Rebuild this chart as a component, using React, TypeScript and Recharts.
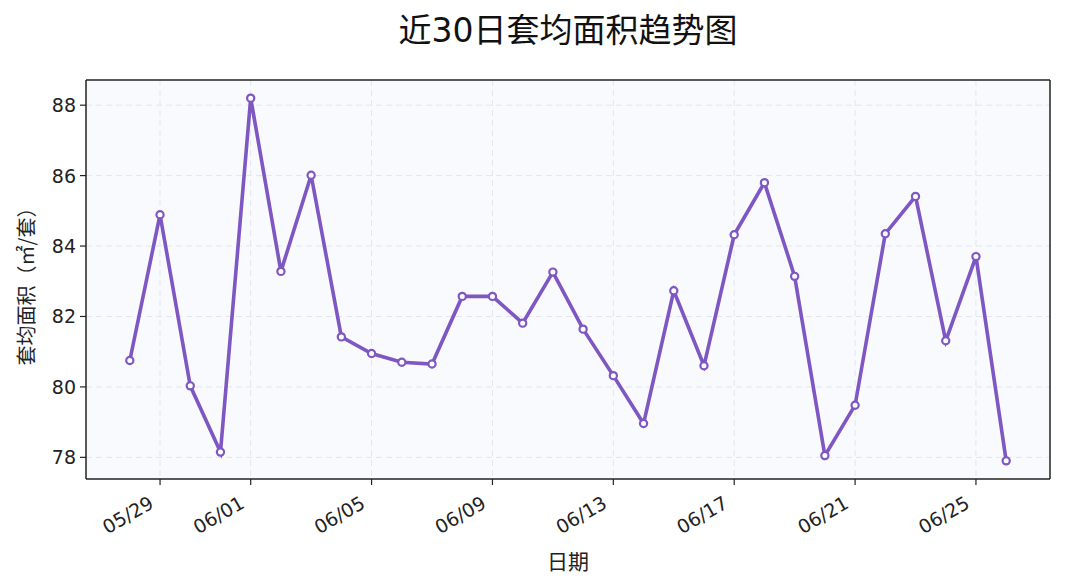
import React from 'react';
import { LineChart, Line, XAxis, YAxis, CartesianGrid, ReferenceLine } from 'recharts';

const dates = ['05/28','05/29','05/30','05/31','06/01','06/02','06/03','06/04','06/05','06/06','06/07','06/08','06/09','06/10','06/11','06/12','06/13','06/14','06/15','06/16','06/17','06/18','06/19','06/20','06/21','06/22','06/23','06/24','06/25','06/26'];
const avgArea = [80.75,84.89,80.03,78.15,88.2,83.28,86.01,81.42,80.95,80.7,80.65,82.57,82.57,81.81,83.26,81.64,80.32,78.96,82.73,80.6,84.32,85.8,83.14,78.05,79.48,84.35,85.41,81.31,83.7,77.9];
const xTickIdx = [1, 4, 8, 12, 16, 20, 24, 28];
const yTicks = [78, 80, 82, 84, 86, 88];

const title = '近30日套均面积趋势图';
const xLabel = '日期';
const yLabel = '套均面积（㎡/套）';

const data = dates.map((d, i) => ({ i, date: d, v: avgArea[i] }));

const X_DOMAIN: [number, number] = [-1.45, 30.45];
const Y_DOMAIN: [number, number] = [77.385, 88.715];

const FONT = '"DejaVu Sans", "Noto Sans CJK SC", sans-serif';
const CJK_FONT = '"Noto Sans CJK SC", "DejaVu Sans", sans-serif';
const COLOR = '#7e57c2';

const XTick = (props: any) => {
  const { x, y, payload } = props;
  const ax = x - 5;
  const ay = y + 20;
  return (
    <text
      x={ax}
      y={ay}
      transform={`rotate(-30, ${ax}, ${ay})`}
      textAnchor="end"
      fontSize={19}
      fill="#222"
      fontFamily={FONT}
    >
      {dates[payload.value]}
    </text>
  );
};

const YTick = (props: any) => {
  const { x, y, payload } = props;
  return (
    <text x={x} y={y} dy={7} textAnchor="end" fontSize={19} fill="#222" fontFamily={FONT}>
      {payload.value}
    </text>
  );
};

const Dot = (props: any) => {
  const { cx, cy } = props;
  return <circle cx={cx} cy={cy} r={3.6} fill="#fff" stroke={COLOR} strokeWidth={2.2} />;
};

export default function App() {
  return (
    <div style={{ position: 'absolute', left: 0, top: 0, width: 1065, height: 588, background: '#fff' }}>
      <div
        style={{
          position: 'absolute',
          left: 0,
          width: 1136,
          top: 8,
          textAlign: 'center',
          fontFamily: FONT,
          fontSize: 33,
          color: '#111',
          lineHeight: '46px',
        }}
      >
        {title}
      </div>
      <LineChart
        width={1065}
        height={588}
        data={data}
        margin={{ top: 80, right: 15, bottom: 49, left: 0 }}
      >
        <CartesianGrid
          stroke="#e3e6ee"
          strokeDasharray="6 4"
          fill="#f9fafe"
          fillOpacity={1}
          verticalValues={xTickIdx}
          horizontalValues={yTicks}
        />
        <XAxis
          dataKey="i"
          type="number"
          domain={X_DOMAIN}
          ticks={xTickIdx}
          interval={0}
          allowDataOverflow
          height={60}
          stroke="#222"
          tickLine={{ stroke: '#222', strokeWidth: 1.2 }}
          axisLine={{ stroke: '#222', strokeWidth: 1.5 }}
          tickSize={6}
          tick={<XTick />}
          label={(p: any) => {
            const vb = p.viewBox;
            return (
              <text
                x={vb.x + vb.width / 2}
                y={560}
                textAnchor="middle"
                dominantBaseline="central"
                fontSize={21}
                fill="#222"
                fontFamily={CJK_FONT}
              >
                {xLabel}
              </text>
            );
          }}
        />
        <YAxis
          type="number"
          domain={Y_DOMAIN}
          ticks={yTicks}
          interval={0}
          allowDataOverflow
          width={86}
          tickSize={6}
          tickMargin={4}
          tickLine={{ stroke: '#222', strokeWidth: 1.2 }}
          axisLine={{ stroke: '#222', strokeWidth: 1.5 }}
          tick={<YTick />}
          label={(p: any) => {
            const vb = p.viewBox;
            const cx = 25;
            const cy = vb.y + vb.height / 2 + 2;
            return (
              <text
                x={cx}
                y={cy}
                transform={`rotate(-90, ${cx}, ${cy})`}
                textAnchor="middle"
                dominantBaseline="central"
                fontSize={20}
                fill="#222"
                fontFamily={CJK_FONT}
              >
                {yLabel}
              </text>
            );
          }}
        />
        <ReferenceLine y={Y_DOMAIN[1]} stroke="#222" strokeWidth={1.5} />
        <ReferenceLine x={X_DOMAIN[1]} stroke="#222" strokeWidth={1.5} />
        <Line
          type="linear"
          dataKey="v"
          stroke={COLOR}
          strokeWidth={3.6}
          dot={<Dot />}
          activeDot={false}
          isAnimationActive={false}
        />
      </LineChart>
    </div>
  );
}
